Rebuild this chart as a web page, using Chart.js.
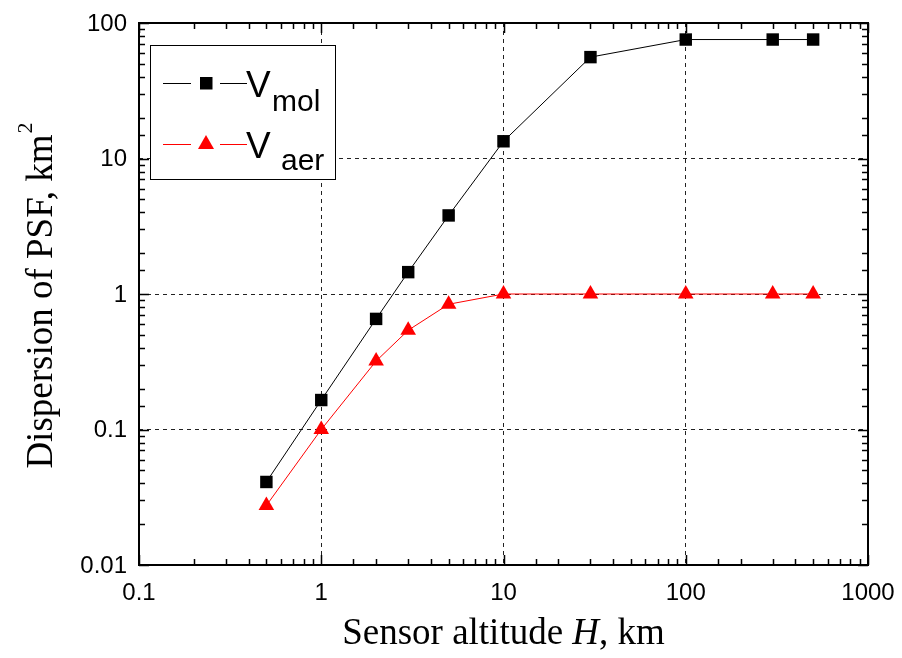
<!DOCTYPE html>
<html>
<head>
<meta charset="utf-8">
<script src="https://cdn.jsdelivr.net/npm/chart.js@4"></script>
<style>
  html, body { margin: 0; padding: 0; background: #fff; }
  #wrap { width: 902px; height: 658px; }
</style>
</head>
<body>
<div id="wrap"><canvas id="PsfChart" width="902" height="658"></canvas></div>
<script>
// sensor altitude H, km
const altitude = [0.5, 1, 2, 3, 5, 10, 30, 100, 300, 500];
// dispersion of PSF, km^2
const vMol = [0.041, 0.165, 0.655, 1.45, 3.8, 13.4, 56, 75.5, 75.5, 75.5];
const vAer = [0.0275, 0.1, 0.32, 0.54, 0.84, 1.0, 1.0, 1.0, 1.0, 1.0];

const xRange = [0.1, 1000];
const yRange = [0.01, 100];

const ctx = document.getElementById('PsfChart');

function toPoints(xs, ys) {
  return xs.map((x, i) => ({ x: x, y: ys[i] }));
}

function isDecade(v) {
  const l = Math.log10(v);
  return Math.abs(l - Math.round(l)) < 1e-6;
}

function decadeLabel(v) {
  const e = Math.round(Math.log10(v));
  return e < 0 ? Math.pow(10, e).toFixed(-e) : String(Math.pow(10, e));
}

const gridColor = (c) => (c.tick && isDecade(c.tick.value)) ? '#222' : 'rgba(0,0,0,0)';

// frame, inward ticks, labels, titles and legend, all placed from the scales
const decorations = {
  id: 'decorations',
  afterDraw(chart) {
    const g = chart.ctx;
    const a = chart.chartArea;
    const xs = chart.scales.x, ys = chart.scales.y;
    g.save();

    g.strokeStyle = '#000';
    g.lineWidth = 1.5;
    xs.ticks.forEach(t => {
      const px = Math.round(xs.getPixelForValue(t.value)) + 0.5;
      const len = isDecade(t.value) ? 10 : 6;
      g.beginPath();
      g.moveTo(px, a.bottom); g.lineTo(px, a.bottom - len);
      g.moveTo(px, a.top); g.lineTo(px, a.top + len);
      g.stroke();
    });
    ys.ticks.forEach(t => {
      const py = Math.round(ys.getPixelForValue(t.value)) + 0.5;
      const len = isDecade(t.value) ? 10 : 6;
      g.beginPath();
      g.moveTo(a.left, py); g.lineTo(a.left + len, py);
      g.moveTo(a.right, py); g.lineTo(a.right - len, py);
      g.stroke();
    });

    g.lineWidth = 2;
    g.strokeRect(a.left, a.top, a.right - a.left, a.bottom - a.top);

    // tick labels
    g.fillStyle = '#000';
    g.font = '24px "Liberation Sans", Arial, sans-serif';
    g.textAlign = 'center';
    g.textBaseline = 'middle';
    xs.ticks.forEach(t => {
      if (!isDecade(t.value)) return;
      g.fillText(decadeLabel(t.value), xs.getPixelForValue(t.value), a.bottom + 28);
    });
    g.textAlign = 'right';
    ys.ticks.forEach(t => {
      if (!isDecade(t.value)) return;
      g.fillText(decadeLabel(t.value), a.left - 12, ys.getPixelForValue(t.value) + 1);
    });

    // x title
    g.textBaseline = 'alphabetic';
    g.textAlign = 'left';
    const serif = '"Liberation Serif", "Times New Roman", serif';
    const parts = [
      ['Sensor altitude ', '37px ' + serif],
      ['H', 'italic 37px ' + serif],
      [', km', '37px ' + serif]
    ];
    let w = 0;
    parts.forEach(p => { g.font = p[1]; w += g.measureText(p[0]).width; });
    let x0 = (a.left + a.right) / 2 - w / 2;
    parts.forEach(p => { g.font = p[1]; g.fillText(p[0], x0, 644); x0 += g.measureText(p[0]).width; });

    // y title
    g.save();
    g.translate(52, 0);
    g.rotate(-Math.PI / 2);
    g.font = '37px ' + serif;
    const main = 'Dispersion of PSF, km';
    const mw = g.measureText(main).width;
    g.font = '22px ' + serif;
    const sw = g.measureText('2').width;
    const start = -((a.top + a.bottom) / 2 + (mw + sw) / 2) - 2;
    g.font = '37px ' + serif;
    g.fillText(main, start, 0);
    g.font = '22px ' + serif;
    g.fillText('2', start + mw + 1, -20);
    g.restore();

    // legend
    const box = { l: 150, t: 45, r: 335, b: 179 };
    g.fillStyle = '#fff';
    g.fillRect(box.l, box.t, box.r - box.l, box.b - box.t);
    g.strokeStyle = '#000';
    g.lineWidth = 1;
    g.strokeRect(box.l + 0.5, box.t + 0.5, box.r - box.l, box.b - box.t);

    const rows = [
      { y: 83, color: '#000', shape: 'square', sub: 'mol', vBase: 97, subX: 272, subBase: 111 },
      { y: 144, color: '#ff0000', shape: 'triangle', sub: 'aer', vBase: 158, subX: 281, subBase: 170 }
    ];
    rows.forEach(r => {
      g.strokeStyle = r.color;
      g.lineWidth = 1;
      g.beginPath();
      g.moveTo(163, r.y + 0.5); g.lineTo(191, r.y + 0.5);
      g.moveTo(220, r.y + 0.5); g.lineTo(247, r.y + 0.5);
      g.stroke();
      g.fillStyle = r.color;
      g.beginPath();
      if (r.shape === 'square') {
        g.rect(200, r.y - 6, 12.5, 12.5);
      } else {
        g.moveTo(206, r.y - 9);
        g.lineTo(214, r.y + 5);
        g.lineTo(198, r.y + 5);
        g.closePath();
      }
      g.fill();
      g.fillStyle = '#000';
      g.textAlign = 'left';
      g.font = '37px "Liberation Sans", Arial, sans-serif';
      g.fillText('V', 246, r.vBase);
      g.font = '30px "Liberation Sans", Arial, sans-serif';
      g.fillText(r.sub, r.subX, r.subBase);
    });

    g.restore();
  }
};

new Chart(ctx, {
  type: 'line',
  data: {
    datasets: [{
      label: 'Vmol',
      data: toPoints(altitude, vMol),
      borderColor: '#000',
      backgroundColor: '#000',
      borderWidth: 1,
      pointStyle: 'rect',
      pointRadius: 8.8,
      pointBorderWidth: 0,
      pointHoverRadius: 8.8
    }, {
      label: 'Vaer',
      data: toPoints(altitude, vAer),
      borderColor: '#ff0000',
      backgroundColor: '#ff0000',
      borderWidth: 1,
      pointStyle: 'triangle',
      pointRadius: 9,
      pointBorderWidth: 0,
      pointHoverRadius: 9
    }]
  },
  options: {
    responsive: false,
    animation: false,
    events: [],
    layout: { padding: { top: 23, right: 34, left: 0, bottom: 0 } },
    plugins: { legend: { display: false }, tooltip: { enabled: false } },
    scales: {
      x: {
        type: 'logarithmic',
        min: xRange[0],
        max: xRange[1],
        ticks: { display: false, autoSkip: false },
        grid: { color: gridColor, lineWidth: 1, drawTicks: false },
        border: { display: false, dash: [4, 4] },
        afterFit: (s) => { s.height = 93; }
      },
      y: {
        type: 'logarithmic',
        min: yRange[0],
        max: yRange[1],
        ticks: { display: false, autoSkip: false },
        grid: { color: gridColor, lineWidth: 1, drawTicks: false },
        border: { display: false, dash: [4, 4] },
        afterFit: (s) => { s.width = 139; }
      }
    }
  },
  plugins: [decorations]
});
</script>
</body>
</html>
